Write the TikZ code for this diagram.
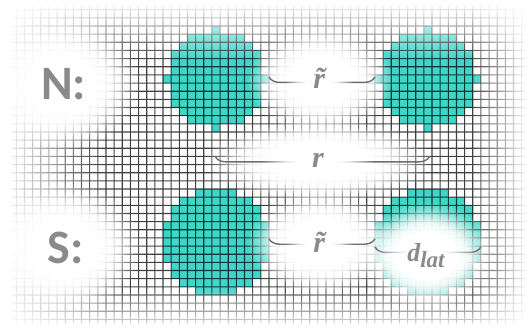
\documentclass[tikz,border=0pt]{standalone}
\usepackage{fontspec}
\newfontfamily\labelfont{Carlito}
\newfontfamily\mathlabfont{Liberation Serif}
\usetikzlibrary{fadings,decorations.pathreplacing}
\definecolor{cellteal}{RGB}{62,214,200}
\definecolor{labgray}{RGB}{138,138,138}
\definecolor{bracegray}{RGB}{110,110,110}
\pgfdeclareradialshading{glowsmoothsh}{\pgfpointorigin}{color(0bp)=(white); color(11bp)=(white); color(15bp)=(black!10); color(18.5bp)=(black!38); color(21.5bp)=(black!70); color(25bp)=(black); color(50bp)=(black)}
\pgfdeclareradialshading{glowsoftsh}{\pgfpointorigin}{color(0bp)=(white); color(9bp)=(white); color(14bp)=(black!20); color(19bp)=(black!55); color(25bp)=(black); color(50bp)=(black)}
\pgfdeclarefading{glowsmooth}{\pgfuseshading{glowsmoothsh}}
\pgfdeclarefading{glowsoft}{\pgfuseshading{glowsoftsh}}
\tikzfading[name=fadetoright, left color=transparent!0, right color=transparent!100]
\tikzfading[name=fadetoleft, left color=transparent!100, right color=transparent!0]
\tikzfading[name=fadetodown, top color=transparent!0, bottom color=transparent!100]
\tikzfading[name=fadetoup, top color=transparent!100, bottom color=transparent!0]
\begin{document}
\begin{tikzpicture}[x=8.15pt,y=8.15pt,
  gridline/.style={black, line width=1.1pt},
  regionglow/.style={white, path fading=glowsmooth},
  softglow/.style={white, path fading=glowsoft},
  rowlabel/.style={inner sep=0pt, text=labgray, font=\labelfont\bfseries\fontsize{48}{56}\selectfont},
  mathlabel/.style={inner sep=0pt, text=labgray, anchor=base},
  bracestyle/.style={bracegray, line width=1.4pt, decorate, decoration={brace, mirror, amplitude=11pt}}]
\useasboundingbox (0,-0.67) rectangle (64.9,40.19);
\fill[white] (0,-0.67) rectangle (64.9,40.19);
% pixel discs
\foreach \cx/\cy/\rr in {26.5/30.5/36, 52.5/30.5/36, 26.5/10.5/42.25, 52.5/10.5/42.25}{
  \foreach \dx in {-6,...,6}{
    \foreach \dy in {-6,...,6}{
      \pgfmathtruncatemacro\ok{(\dx*\dx+\dy*\dy<=\rr)}
      \ifnum\ok=1
        \fill[cellteal] (\cx+\dx-0.5,\cy+\dy-0.5) rectangle ++(1,1);
      \fi
    }}}
% grid
\begin{scope}[transparency group, opacity=0.75]
\foreach \i in {2,...,64} \draw[gridline] (\i,0.5) -- (\i,39.5);
\foreach \j in {1,...,39} \draw[gridline] (1.5,\j) -- (64.5,\j);
\end{scope}
% region glows
\fill[regionglow] (7.6,29.9) ellipse [x radius=9.6, y radius=8.0];
\fill[regionglow] (7.8,9.8) ellipse [x radius=9.6, y radius=8.0];
\fill[regionglow] (39.3,30.4) ellipse [x radius=9.0, y radius=6.6];
\fill[regionglow] (39.3,10.4) ellipse [x radius=9.0, y radius=6.6];
\fill[regionglow] (39.1,20.5) ellipse [x radius=14.0, y radius=5.2];
\fill[regionglow] (52.3,8.9) ellipse [x radius=8.4, y radius=6.6];
% edge fades
\fill[white, path fading=fadetoright] (0,-0.67) rectangle (12.5,40.19);
\fill[white, path fading=fadetoleft] (57.8,-0.67) rectangle (64.9,40.19);
\fill[white, path fading=fadetodown] (0,32.8) rectangle (64.9,40.19);
\fill[white, path fading=fadetoup] (0,-0.67) rectangle (64.9,5.2);
% brace end points
\coordinate (b1s) at (33,30.75); \coordinate (b1e) at (46,30.75);
\coordinate (b2s) at (26.4,21.0); \coordinate (b2e) at (52.7,21.0);
\coordinate (b3s) at (33,10.9);  \coordinate (b3e) at (46,10.9);
\coordinate (b4s) at (46,9.9);   \coordinate (b4e) at (59,9.9);
\draw[bracestyle] (b1s) -- (b1e);
\draw[bracestyle] (b2s) -- (b2e);
\draw[bracestyle] (b3s) -- (b3e);
\draw[bracestyle] (b4s) -- (b4e);
% label glows
\fill[softglow] (39.15,30.3) ellipse [x radius=4.2, y radius=2.6];
\fill[softglow] (39.0,20.4) ellipse [x radius=7.0, y radius=2.6];
\fill[softglow] (39.15,10.2) ellipse [x radius=4.2, y radius=2.6];
\fill[softglow] (52.25,8.7) ellipse [x radius=6.4, y radius=2.9];
% labels
\node[mathlabel, font=\mathlabfont\bfseries\itshape\fontsize{30}{34}\selectfont] (rt1) at (39.15,29.36) {r̃};
\node[mathlabel, font=\mathlabfont\bfseries\itshape\fontsize{30}{34}\selectfont] (r) at (39.0,19.66) {r};
\node[mathlabel, font=\mathlabfont\bfseries\itshape\fontsize{30}{34}\selectfont] (rt2) at (39.15,9.27) {r̃};
\node[mathlabel, font=\mathlabfont\bfseries\itshape\fontsize{26}{30}\selectfont] (dl) at (52.25,8.08) {d\raisebox{-6pt}{\fontsize{23}{26}\selectfont lat}};
\node[rowlabel] (N) at (7.8,29.88) {N:};
\node[rowlabel] (S) at (8.04,9.82) {S:};
\end{tikzpicture}
\end{document}
